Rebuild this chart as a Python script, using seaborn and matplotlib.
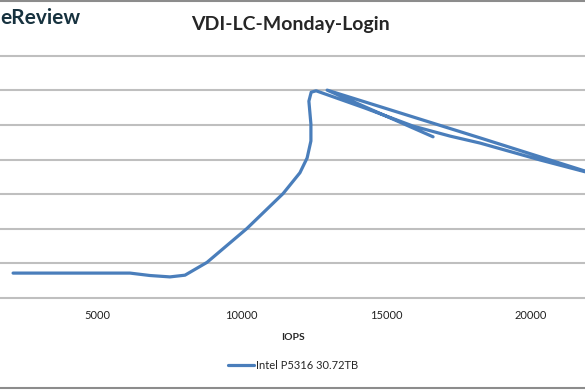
import matplotlib.pyplot as plt
import seaborn as sns
from matplotlib.lines import Line2D

# (IOPS vs latency, left side of the chart is cropped)
iops = [2100, 6140, 6830, 7520, 8040, 8800, 10180, 11430, 12010, 12260, 12390,
        12390, 12320, 12400, 12570, 14260, 15920, 17200, 18230, 20310, 21860,
        22520, 21860, 18230, 12950, 16610]
latency = [0.72, 0.72, 0.65, 0.61, 0.66, 1.03, 2.01, 3.02, 3.62, 4.05, 4.54,
           5.03, 5.69, 5.95, 5.99, 5.49, 4.97, 4.68, 4.48, 3.99, 3.65,
           3.51, 3.67, 4.63, 6.01, 4.66]
series_name = "Intel P5316 30.72TB"
x_ticks = [5000, 10000, 15000, 20000]
y_grid = [1, 2, 3, 4, 5, 6, 7]

sns.set_style("white")
plt.rcParams['font.family'] = ['Lato', 'DejaVu Sans']

fig = plt.figure(figsize=(5.85, 3.9), dpi=100)
ax = fig.add_axes([0, 0.2359, 1, 0.6244])

# horizontal gridlines (y labels are cropped away in the reference)
for g in y_grid:
    ax.axhline(g, color='#bfbfbf', linewidth=1.5, zorder=0, clip_on=False)

sns.lineplot(x=iops, y=latency, sort=False, estimator=None, ax=ax,
             color="#4a7ebb", linewidth=2.3, label=series_name, zorder=3)

ax.set_xlim(1648, 21860)
ax.set_ylim(0, 7.04)
ax.set_yticks([])
ax.set_xticks(x_ticks)
ax.set_xticklabels([str(t) for t in x_ticks])
ax.tick_params(axis='x', length=3, width=0.8, color='#7f7f7f', labelsize=8,
               pad=6, labelcolor='#222222')
for s in ['top', 'right', 'left']:
    ax.spines[s].set_visible(False)
ax.spines['bottom'].set_color('#bfbfbf')
ax.spines['bottom'].set_linewidth(1.5)
ax.set_xlabel("IOPS", fontsize=7.5, fontweight='bold', labelpad=8)
ax.set_ylabel("")

ax.legend(loc='center', bbox_to_anchor=(0.501, 0.064), bbox_transform=fig.transFigure,
          frameon=False, fontsize=8, handlelength=2.4, handletextpad=0.2)

fig.text(0.496, 0.936, "VDI-LC-Monday-Login", fontsize=14, fontweight='bold',
         ha='center', va='center')
fig.text(0.0, 0.955, "eReview", fontsize=15, color='#17323f', fontweight='bold',
         family=['Lato', 'DejaVu Sans'], ha='left', va='center')

# screenshot border lines
fig.add_artist(Line2D([0, 1], [0.998, 0.998], transform=fig.transFigure,
                      color='#8c8c8c', linewidth=1.5))
fig.add_artist(Line2D([0, 1], [0.005, 0.005], transform=fig.transFigure,
                      color='#8c8c8c', linewidth=1.5))

fig.savefig("out.png", dpi=100)
